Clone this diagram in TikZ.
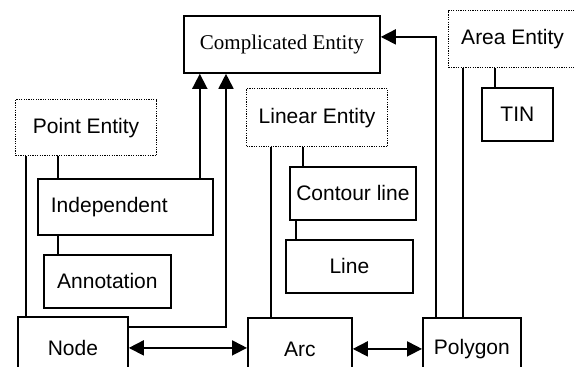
\documentclass[tikz,border=0pt]{standalone}
\usepackage{fontspec}
\setmainfont{Liberation Sans}
\newfontfamily\serifent{Liberation Serif}
\usetikzlibrary{arrows.meta}

\begin{document}
\begin{tikzpicture}[x=1pt, y=-1pt,
    box/.style={draw, line width=1.8pt, anchor=north west, inner sep=0pt, font=\fontsize{21}{25}\selectfont},
    entity/.style={box, line width=1.2pt, dash pattern=on 1.2pt off 1.2pt},
    link/.style={line width=1.8pt},
    arr/.style={link, -{Triangle[length=15pt,width=15pt]}},
    darr/.style={link, {Triangle[length=15pt,width=15pt]}-{Triangle[length=15pt,width=15pt]}}]
    \path[use as bounding box] (0,0) rectangle (574,367);
    \clip (0,0) rectangle (574,367);

    % Top
    \node[box, minimum width=196pt, minimum height=57pt, font=\serifent\fontsize{21}{25}\selectfont] (comp) at (183,15) {Complicated Entity};

    % Point entities
    \node[entity, minimum width=141pt, minimum height=56pt] (point) at (15,99) {Point Entity};
    \node[box, minimum height=56pt, text width=149pt, inner xsep=13pt, align=left] (indep) at (37,178) {Independent};
    \node[box, minimum width=127pt, minimum height=53pt] (annot) at (43,254) {Annotation};
    \node[box, minimum width=110pt, minimum height=62pt] (node) at (17,316) {Node};

    % Linear entities
    \node[entity, minimum width=141pt, minimum height=58pt] (linear) at (246,88) {Linear Entity};
    \node[box, minimum width=126pt, minimum height=53pt] (contour) at (289,166) {Contour line};
    \node[box, minimum width=127pt, minimum height=53pt] (line) at (285,239) {Line};
    \node[box, minimum width=104pt, minimum height=62pt] (arc) at (247,317) {Arc};

    % Area entities
    \node[entity, minimum width=128pt, minimum height=57pt] (area) at (448,10) {Area Entity};
    \node[box, minimum width=71pt, minimum height=53pt] (tin) at (481,87) {TIN};
    \node[box, minimum width=98pt, minimum height=62pt] (poly) at (422,317) {Polygon};

    % Links
    \draw[link] ([xshift=11]point.south west) -- ([xshift=11]point.south west |- node.north);
    \draw[link] ([xshift=43]point.south west) -- ([xshift=43]point.south west |- indep.north);
    \draw[link] ([xshift=21]indep.south west) -- ([xshift=21]indep.south west |- annot.north);
    \draw[link] ([xshift=25]linear.south west) -- ([xshift=25]linear.south west |- arc.north);
    \draw[link] ([xshift=57]linear.south west) -- ([xshift=57]linear.south west |- contour.north);
    \draw[link] ([xshift=7]contour.south west) -- ([xshift=7]contour.south west |- line.north);
    \draw[link] ([xshift=15]area.south west) -- ([xshift=15]area.south west |- poly.north);
    \draw[link] ([xshift=47]area.south west) -- ([xshift=47]area.south west |- tin.north);

    % Arrows to the top
    \draw[arr] ([xshift=-14]indep.north east) -- ([xshift=-14]indep.north east |- comp.south);
    \draw[arr] ([yshift=-11]node.north east) -| ([xshift=43]comp.south west);
    \draw[arr] ([xshift=14]poly.north west) |- ([yshift=7.5]comp.east);

    % Arrows along the bottom
    \draw[darr] (node.east) -- (node.east -| arc.west);
    \draw[darr] (arc.east) -- (arc.east -| poly.west);
\end{tikzpicture}
\end{document}
